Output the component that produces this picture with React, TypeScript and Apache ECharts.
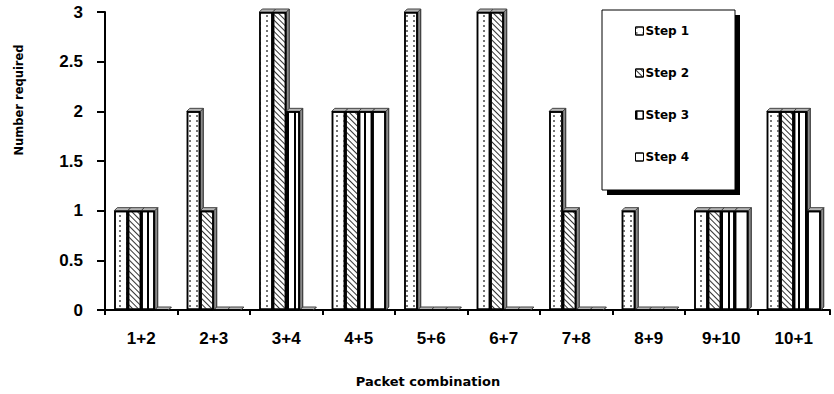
import React, { useEffect, useRef } from "react";
import * as echarts from "echarts";

const categories = ["1+2", "2+3", "3+4", "4+5", "5+6", "6+7", "7+8", "8+9", "9+10", "10+1"];
const step1 = [1, 2, 3, 2, 3, 3, 2, 1, 1, 2];
const step2 = [1, 1, 3, 2, 0, 3, 1, 0, 1, 2];
const step3 = [1, 0, 2, 2, 0, 0, 0, 0, 1, 2];
const step4 = [0, 0, 0, 2, 0, 0, 0, 0, 1, 1];
const seriesNames = ["Step 1", "Step 2", "Step 3", "Step 4"];
const yTicks = [0, 0.5, 1, 1.5, 2, 2.5, 3];

const FONT = "Liberation Sans";
const WIDE = "DejaVu Sans";
const BAR_W = 13.5;
const DEPTH = 3;

const decals: any[] = [
  { symbol: "rect", symbolSize: 1, color: "#777", dashArrayX: [1.5, 4.5], dashArrayY: [2, 2.5], rotation: 0 },
  { symbol: "rect", symbolSize: 1, color: "#333", dashArrayX: [1, 0], dashArrayY: [1, 2.2], rotation: Math.PI / 4 },
  { symbol: "rect", symbolSize: 1, color: "#000", dashArrayX: [2, 5], dashArrayY: [1, 0], rotation: 0 },
  { symbol: "none" },
];

export default function App() {
  const ref = useRef<HTMLDivElement>(null);
  useEffect(() => {
    const chart = echarts.init(ref.current!, null, { renderer: "svg" });
    const data = [step1, step2, step3, step4];
    const barSeries = data.map((d, i) => ({
      name: seriesNames[i],
      type: "bar",
      data: d,
      z: 3,
      barWidth: BAR_W,
      barGap: "0%",
      itemStyle: {
        color: "#fff",
        borderColor: "#000",
        borderWidth: 1.5,
        decal: decals[i],
      },
    }));
    const sideSeries = data.map((d, k) => ({
      name: "side" + k,
      type: "custom",
      z: 2,
      silent: true,
      data: d.map((v, i) => [i, v]),
      encode: { x: 0, y: 1 },
      renderItem: (params: any, api: any) => {
        const ci = api.value(0);
        const v = api.value(1);
        const top = api.coord([ci, v]);
        const base = api.coord([ci, 0]);
        const left = top[0] - 2 * BAR_W + k * BAR_W;
        const right = left + BAR_W;
        const yt = top[1];
        const yb = base[1];
        return {
          type: "group",
          children: [
            {
              type: "polygon",
              shape: { points: [[right, yt], [right + DEPTH, yt - DEPTH], [right + DEPTH, yb - DEPTH], [right, yb]] },
              style: { fill: "#8a8a8a", stroke: "#222", lineWidth: 1 },
            },
            {
              type: "polygon",
              shape: { points: [[left, yt], [left + DEPTH, yt - DEPTH], [right + DEPTH, yt - DEPTH], [right, yt]] },
              style: { fill: "#b5b5b5", stroke: "#444", lineWidth: 1 },
            },
          ],
        };
      },
    }));
    chart.setOption({
      animation: false,
      backgroundColor: "#fff",
      aria: { enabled: true, decal: { show: true } },
      grid: { left: 105, right: 4, top: 12, bottom: 84 },
      legend: {
        orient: "vertical",
        left: 635,
        top: 25,
        data: seriesNames,
        icon: "rect",
        itemWidth: 8,
        itemHeight: 8,
        itemGap: 30,
        padding: 0,
        z: 10,
        textStyle: { fontFamily: WIDE, fontWeight: "bold", fontSize: 12, color: "#000", padding: [0, 0, 0, -3] },
        itemStyle: { borderColor: "#000", borderWidth: 1 },
      },
      xAxis: {
        type: "category",
        data: categories,
        axisLine: { lineStyle: { color: "#000", width: 2 } },
        axisTick: { show: true, length: 5, lineStyle: { color: "#000", width: 2 } },
        axisLabel: { fontFamily: FONT, fontWeight: "bold", fontSize: 17, color: "#000", margin: 20 },
      },
      yAxis: {
        type: "value",
        min: 0,
        max: 3,
        interval: 0.5,
        axisLine: { show: true, lineStyle: { color: "#000", width: 2 } },
        axisTick: { show: true, length: 8, lineStyle: { color: "#000", width: 2 } },
        splitLine: { show: false },
        axisLabel: {
          fontFamily: FONT,
          fontWeight: "bold",
          fontSize: 17,
          color: "#000",
          margin: 22,
          formatter: (v: number) => (yTicks.includes(v) ? String(v) : ""),
        },
      },
      graphic: [
        { type: "rect", z: 5, shape: { x: 607, y: 15, width: 133, height: 180 }, style: { fill: "#000" } },
        { type: "rect", z: 6, shape: { x: 602, y: 10, width: 133, height: 180 }, style: { fill: "#fff", stroke: "#000", lineWidth: 1 } },
        {
          type: "text",
          x: 19,
          y: 100,
          rotation: Math.PI / 2,
          style: { text: "Number required", font: `bold 11.5px "${WIDE}"`, fill: "#000", align: "center", verticalAlign: "middle" },
        },
        {
          type: "text",
          x: 428,
          y: 381,
          style: { text: "Packet combination", font: `bold 13px "${WIDE}"`, fill: "#000", align: "center", verticalAlign: "middle" },
        },
      ],
      series: [...sideSeries, ...barSeries],
    });
    return () => chart.dispose();
  }, []);
  return <div ref={ref} style={{ width: 834, height: 394, position: "absolute", left: 0, top: 0 }} />;
}
